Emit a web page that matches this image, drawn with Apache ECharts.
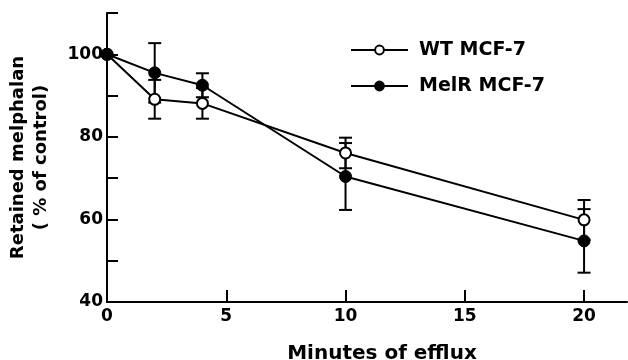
<!DOCTYPE html>
<html>
<head>
<meta charset="utf-8">
<script src="https://cdn.jsdelivr.net/npm/echarts@6/dist/echarts.min.js"></script>
<style>
  html, body { margin: 0; padding: 0; background: #fff; }
  #chart { width: 628px; height: 360px; }
</style>
</head>
<body>
<div id="chart"></div>
<script>
// minutes of efflux
const minutes = [0, 2, 4, 10, 20];
// retained melphalan, % of control
const wtValues = [100, 89.1, 88.1, 76.1, 59.9];
const wtErr = [0, 4.7, 3.7, 3.7, 4.8];
const melrValues = [100, 95.5, 92.5, 70.4, 54.8];
const melrErr = [0, 7.2, 2.9, 8.1, 7.7];
const seriesNames = ['WT MCF-7', 'MelR MCF-7'];

const FONT = '"DejaVu Sans", Verdana, sans-serif';

// pairs [x, y] for the line series
const toPoints = vals => minutes.map((m, i) => [m, vals[i]]);
// [x, low, high] for the error bars, skip zero error
const toErrors = (vals, errs) => minutes
  .map((m, i) => [m, vals[i] - errs[i], vals[i] + errs[i]])
  .filter((d, i) => errs[i] > 0);

const renderErr = (params, api) => {
  const x = api.value(0);
  const lo = api.coord([x, api.value(1)]);
  const hi = api.coord([x, api.value(2)]);
  const w = 6.5;
  const st = { stroke: '#000', lineWidth: 2 };
  return {
    type: 'group',
    children: [
      { type: 'line', shape: { x1: lo[0], y1: lo[1], x2: hi[0], y2: hi[1] }, style: st },
      { type: 'line', shape: { x1: lo[0] - w, y1: lo[1], x2: lo[0] + w, y2: lo[1] }, style: st },
      { type: 'line', shape: { x1: hi[0] - w, y1: hi[1], x2: hi[0] + w, y2: hi[1] }, style: st }
    ]
  };
};

const chart = echarts.init(document.getElementById('chart'));

const option = {
  animation: false,
  backgroundColor: '#fff',
  textStyle: { fontFamily: FONT },
  grid: {
    left: 107, right: 1, top: 13, bottom: 58,
    containLabel: false,
    outerBoundsMode: 'none'
  },
  legend: {
    data: seriesNames,
    orient: 'vertical',
    left: 345,
    top: 35,
    itemWidth: 57,
    itemHeight: 11,
    itemGap: 16,
    textStyle: {
      fontFamily: FONT, fontSize: 19, fontWeight: 'bold', color: '#000',
      lineHeight: 20, padding: [0, 0, 0, 6]
    }
  },
  xAxis: {
    type: 'value',
    min: 0,
    max: 21.8,
    interval: 5,
    name: 'Minutes of efflux',
    nameLocation: 'middle',
    nameGap: 42,
    nameTextStyle: {
      fontFamily: FONT, fontSize: 20, fontWeight: 'bold', color: '#000',
      padding: [0, 0, 0, 30]
    },
    axisLine: { lineStyle: { color: '#000', width: 2 } },
    axisTick: { inside: true, length: 12, lineStyle: { color: '#000', width: 2 } },
    axisLabel: {
      margin: 6,
      fontFamily: FONT, fontSize: 17, fontWeight: 'bold', color: '#000',
      showMaxLabel: false
    },
    splitLine: { show: false }
  },
  yAxis: {
    type: 'value',
    min: 40,
    max: 110,
    interval: 10,
    name: 'Retained melphalan\n( % of control)',
    nameLocation: 'middle',
    nameGap: 54,
    nameTextStyle: {
      fontFamily: FONT, fontSize: 18, fontWeight: 'bold', color: '#000', lineHeight: 23
    },
    axisLine: { lineStyle: { color: '#000', width: 2 } },
    axisTick: { inside: true, length: 11, lineStyle: { color: '#000', width: 2 } },
    axisLabel: {
      margin: 4,
      fontFamily: FONT, fontSize: 17, fontWeight: 'bold', color: '#000',
      formatter: v => (v % 20 === 0 ? String(v) : '')
    },
    splitLine: { show: false }
  },
  series: [
    {
      name: 'wt-err',
      type: 'custom',
      renderItem: renderErr,
      data: toErrors(wtValues, wtErr),
      z: 1
    },
    {
      name: 'melr-err',
      type: 'custom',
      renderItem: renderErr,
      data: toErrors(melrValues, melrErr),
      z: 1
    },
    {
      name: seriesNames[0],
      type: 'line',
      data: toPoints(wtValues),
      symbol: 'circle',
      symbolSize: 11,
      lineStyle: { color: '#000', width: 2 },
      itemStyle: { color: '#fff', borderColor: '#000', borderWidth: 2 },
      z: 3
    },
    {
      name: seriesNames[1],
      type: 'line',
      data: toPoints(melrValues),
      symbol: 'circle',
      symbolSize: 12,
      lineStyle: { color: '#000', width: 2 },
      itemStyle: { color: '#000', borderColor: '#000', borderWidth: 1 },
      z: 3
    }
  ]
};

chart.setOption(option);
</script>
</body>
</html>
